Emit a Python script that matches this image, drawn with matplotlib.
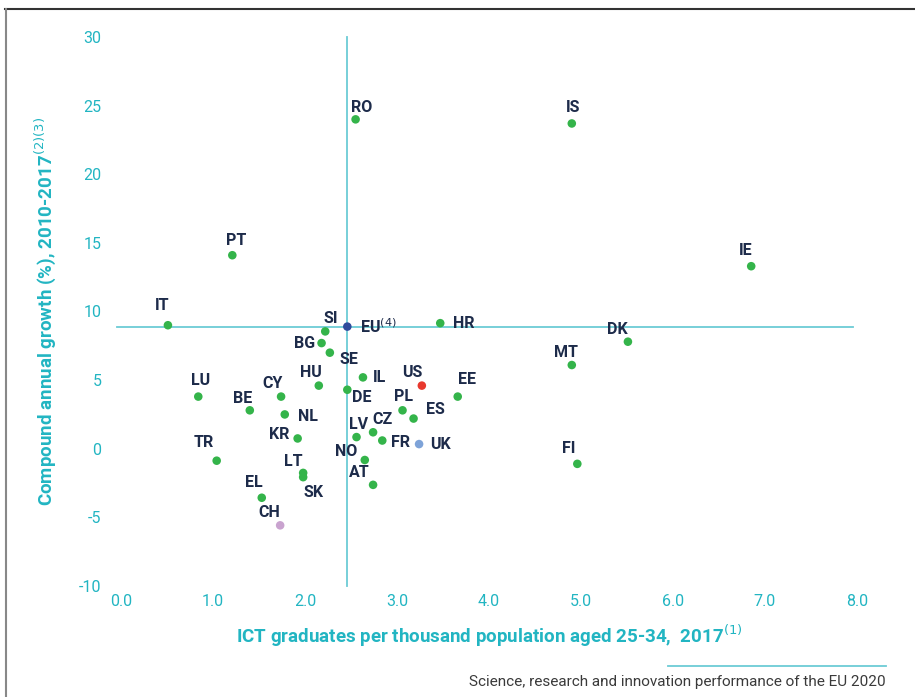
import matplotlib.pyplot as plt
from matplotlib.lines import Line2D

# ICT graduates per thousand population aged 25-34 (x) vs compound annual growth 2010-2017 (y)
countries = ['RO', 'IS', 'PT', 'IE', 'IT', 'DK', 'MT', 'FI', 'SI', 'EU', 'HR', 'BG', 'SE',
             'IL', 'US', 'EE', 'HU', 'DE', 'LU', 'CY', 'BE', 'NL', 'PL', 'ES', 'CZ', 'LV',
             'FR', 'UK', 'KR', 'TR', 'NO', 'LT', 'SK', 'AT', 'EL', 'CH']
graduates = [2.55, 4.90, 1.21, 6.85, 0.51, 5.51, 4.90, 4.96, 2.22, 2.46, 3.47, 2.18, 2.27,
             2.63, 3.27, 3.66, 2.15, 2.46, 0.84, 1.74, 1.40, 1.78, 3.06, 3.18, 2.74, 2.56,
             2.84, 3.24, 1.92, 1.04, 2.65, 1.98, 1.98, 2.74, 1.53, 1.73]
growth = [24.0, 23.7, 14.1, 13.3, 9.0, 7.8, 6.1, -1.1, 8.55, 8.9, 9.15, 7.7, 7.0,
          5.2, 4.6, 3.8, 4.6, 4.3, 3.8, 3.8, 2.8, 2.5, 2.8, 2.2, 1.2, 0.85,
          0.6, 0.34, 0.75, -0.87, -0.82, -1.76, -2.07, -2.63, -3.57, -5.58]

# label placement (offset in pixels, horizontal alignment)
label_pos = {
    'RO': (6, 12, 'center'), 'IS': (1, 16, 'center'), 'PT': (4, 15, 'center'),
    'IE': (-6, 16, 'center'), 'IT': (-6, 20, 'center'), 'DK': (-11, 12, 'center'),
    'MT': (-6, 13, 'center'), 'FI': (-9, 15, 'center'), 'SI': (6, 13, 'center'),
    'EU': (13, 0, 'left'), 'HR': (13, 0, 'left'), 'BG': (-6, 0, 'right'),
    'SE': (10, -7, 'left'), 'IL': (10, 0, 'left'), 'US': (-10, 13, 'center'),
    'EE': (9, 17, 'center'), 'HU': (-8, 13, 'center'), 'DE': (5, -8, 'left'),
    'LU': (2, 16, 'center'), 'CY': (-9, 13, 'center'), 'BE': (-7, 12, 'center'),
    'NL': (13, -2, 'left'), 'PL': (1, 14, 'center'), 'ES': (12, 9, 'left'),
    'CZ': (9, 13, 'center'), 'LV': (2, 13, 'center'), 'FR': (9, -2, 'left'),
    'UK': (11, 0, 'left'), 'KR': (-8, 4, 'right'), 'TR': (-13, 18, 'center'),
    'NO': (-8, 9, 'right'), 'LT': (-10, 11, 'center'), 'SK': (10, -15, 'center'),
    'AT': (-14, 12, 'center'), 'EL': (-8, 15, 'center'), 'CH': (-11, 13, 'center'),
}

special_colors = {'EU': '#2f4b9c', 'US': '#e8392e', 'UK': '#7ea3d8', 'CH': '#c9a3cf'}
green = '#34b44a'
teal = '#22b5c2'
line_teal = '#6ccbd5'
navy = '#1d2b4a'

plt.rcParams['font.family'] = ['Roboto', 'DejaVu Sans']
plt.rcParams['axes.unicode_minus'] = False

fig = plt.figure(figsize=(9.15, 6.97), dpi=100)
ax = fig.add_axes([121 / 915, 1 - 586 / 697, (857 - 121) / 915, (586 - 37) / 697])
ax.set_xlim(0, 8)
ax.set_ylim(-10, 30)

eu_x = graduates[countries.index('EU')]
eu_y = growth[countries.index('EU')]
ax.plot([-0.04, 7.96], [eu_y, eu_y], color=line_teal, lw=1.3, zorder=1, clip_on=False)
ax.plot([eu_x, eu_x], [-10, 30], color=line_teal, lw=1.3, zorder=1, clip_on=False)

colors = [special_colors.get(c, green) for c in countries]
ax.scatter(graduates, growth, s=38, c=colors, zorder=3, linewidths=0)

for c, x, y in zip(countries, graduates, growth):
    dx, dy, ha = label_pos[c]
    text = 'EU$^{(4)}$' if c == 'EU' else c
    ax.annotate(text, (x, y), xytext=(dx, dy), textcoords='offset pixels',
                ha=ha, va='center', fontsize=11.5, fontweight='bold', color=navy)

for s in ax.spines.values():
    s.set_visible(False)
ax.set_xticks(range(9))
ax.set_xticklabels([f'{v:.1f}' for v in range(9)])
ax.set_yticks(range(-10, 31, 5))
ax.tick_params(length=0, colors=teal, labelsize=11.5)
ax.tick_params(axis='x', pad=6)
ax.tick_params(axis='y', pad=14)

ax.set_xlabel('ICT graduates per thousand population aged 25-34,  2017$^{(1)}$',
              color=teal, fontsize=13.5, fontweight='bold', labelpad=10)
ax.set_ylabel('Compound annual growth (%), 2010-2017$^{(2)(3)}$',
              color=teal, fontsize=13.5, fontweight='bold', labelpad=15)

# page frame and footer
fig.add_artist(Line2D([5 / 915, 1], [1 - 9 / 697, 1 - 9 / 697], color='#333333', lw=1.5))
fig.add_artist(Line2D([6 / 915, 6 / 915], [0, 1 - 9 / 697], color='#888888', lw=1.5))
fig.add_artist(Line2D([668 / 915, 886 / 915], [1 - 666 / 697, 1 - 666 / 697], color=line_teal, lw=1.3))
fig.text(886 / 915, 1 - 682 / 697, 'Science, research and innovation performance of the EU 2020',
         ha='right', va='center', fontsize=11, color='#3a3a3a')

fig.savefig('out.png', dpi=100)
